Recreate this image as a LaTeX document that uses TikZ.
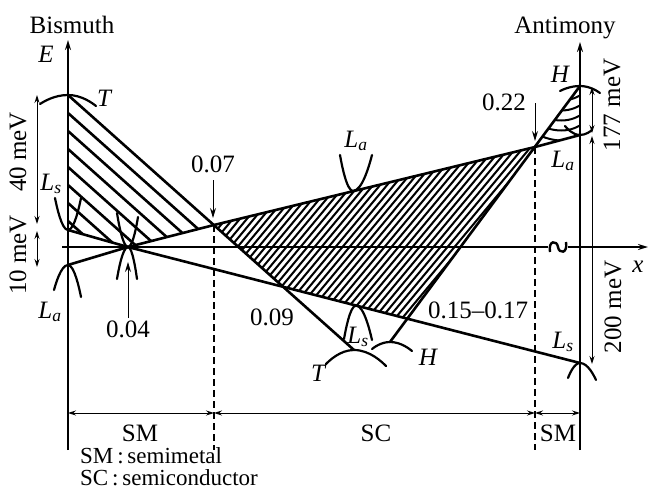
\documentclass[tikz,border=0pt]{standalone}
\usepackage{fontspec}
\setmainfont{Liberation Serif}
\usetikzlibrary{arrows.meta}
\begin{document}
\begin{tikzpicture}[x=1pt,y=-1pt,
  band/.style={line width=2.6pt, line cap=round, line join=round},
  bandcurve/.style={line width=2.2pt, line cap=round},
  axisline/.style={line width=2.6pt,-{Stealth[length=10pt,width=6pt]}},
  dimarrow/.style={line width=0.9pt,{Stealth[length=8pt,width=5pt]}-{Stealth[length=8pt,width=5pt]}},
  ptr/.style={line width=1pt,-{Stealth[length=10pt,width=6pt]}},
  divline/.style={line width=1.8pt,dash pattern=on 7pt off 4pt},
  lbl/.style={inner sep=0pt, font=\fontsize{25}{30}\selectfont},
  leglbl/.style={inner sep=0pt, font=\fontsize{23}{26}\selectfont},
  hatchA/.style={line width=2.6pt},
  hatchC/.style={line width=2pt},
]
\useasboundingbox (0,0) rectangle (651,490);
% key points
\coordinate (T_Bi) at (68,95);
\coordinate (Ls_Bi) at (68,230);
\coordinate (La_Bi) at (68,265);
\coordinate (P04) at (128,247);
\coordinate (P07) at (214,225);
\coordinate (P09) at (283,286);
\coordinate (P15) at (408,318);
\coordinate (P22) at (535,147);
\coordinate (H_Sb) at (580,86);
\coordinate (La_Sb) at (580,135);
\coordinate (Ls_Sb) at (580,363);
\coordinate (T_end) at (354,350);
\coordinate (H_end) at (390,342);
\coordinate (LaM) at (353,191);
\coordinate (LsM) at (356,305.5);
% axes ends
\coordinate (BiBot) at (68,450);
\coordinate (BiTop) at (68,40);
\coordinate (SbBot) at (580,450);
\coordinate (SbTop) at (580,42);
\coordinate (XL) at (62,247);
\coordinate (XR) at (648,247);

% hatching: left region
\begin{scope}
  \clip (T_Bi) -- (P07) -- (P04) -- (Ls_Bi) -- cycle;
  \foreach \yy in {113,131,...,230}
    \draw[hatchA] (68,\yy) -- ++(175,156);
\end{scope}
% hatching: middle region
\begin{scope}
  \clip (P07) -- (P22) -- (P15) -- (P09) -- cycle;
  \foreach \cc in {104,111,...,410}
    \draw[hatchC] (\cc,340) -- ++(170,-204);
\end{scope}
% hatching: right small region
\begin{scope}
  \clip (H_Sb) -- (P22) -- (La_Sb) -- cycle;
  \foreach \yy in {96,106,116,126,136}
    \draw[hatchC] (525,\yy-8) .. controls (555,\yy+10) and (572,\yy+6) .. (585,\yy-4);
\end{scope}

% axes
\draw[axisline] (BiBot) -- (BiTop);
\draw[axisline] (SbBot) -- (SbTop);
\draw[line width=2pt,-{Stealth[length=10pt,width=6pt]}] (XL) -- (XR);
% axis break mark
\fill[white] (548,240) rectangle (568,254);
\draw[line width=2.4pt] (550,252) .. controls (548,240) and (557,240) .. (558,247) .. controls (559,254) and (568,254) .. (566,242);

% dividing dashed lines
\coordinate (P07b) at (214,450);
\coordinate (P22b) at (535,450);
\draw[divline] (P07) -- (P07b);
\draw[divline] (P22) -- (P22b);

% band lines
\draw[band] (T_Bi) -- (T_end);
\draw[band] (Ls_Bi) -- (P04) -- (Ls_Sb);
\draw[band] (La_Bi) -- (P04) -- (P07) -- (P22) -- (La_Sb);
\draw[band] (H_Sb) -- (H_end);

% band curves
\draw[bandcurve] (40,104) parabola bend (T_Bi) (96,106);
\draw[bandcurve] (55,198) parabola bend (Ls_Bi) (81,198);
\draw[bandcurve] (54,290) parabola bend (La_Bi) (81,297);
\draw[bandcurve] (117,213) parabola bend (P04) (138,217);
\draw[bandcurve] (117,279) parabola bend (P04) (137,279);
\draw[bandcurve] (340,155) parabola bend (LaM) (372,155);
\draw[bandcurve] (344,339) parabola bend (LsM) (372,340);
\draw[bandcurve] (326,364) parabola bend (T_end) (386,366);
\draw[bandcurve] (372,349) parabola bend (H_end) (412,351);
\draw[bandcurve] (560,91) parabola bend (H_Sb) (600,93);
\draw[bandcurve] (565,126) parabola bend (La_Sb) (592,130);
\draw[bandcurve] (568,378) parabola bend (Ls_Sb) (596,380);

% pointer arrows
\coordinate (A04s) at (128,318); \coordinate (A04e) at (128,262);
\coordinate (A07s) at (213,180); \coordinate (A07e) at (213,218);
\coordinate (A22s) at (535,103); \coordinate (A22e) at (535,141);
\draw[ptr] (A04s) -- (A04e);
\draw[ptr] (A07s) -- (A07e);
\draw[ptr] (A22s) -- (A22e);

% vertical dimensions
\coordinate (d40a) at (37,95);  \coordinate (d40b) at (37,224);
\coordinate (d10a) at (37,231); \coordinate (d10b) at (37,267);
\coordinate (d177a) at (592,87); \coordinate (d177b) at (592,133);
\coordinate (d200a) at (592,136); \coordinate (d200b) at (592,364);
\draw[dimarrow] (d40a) -- (d40b);
\draw[dimarrow] (d10a) -- (d10b);
\draw[dimarrow] (d177a) -- (d177b);
\draw[dimarrow] (d200a) -- (d200b);

% bottom dimensions
\coordinate (D0) at (68,413); \coordinate (D1) at (214,413);
\coordinate (D2) at (535,413); \coordinate (D3) at (580,413);
\draw[dimarrow] (D0) -- (D1);
\draw[dimarrow] (D1) -- (D2);
\draw[dimarrow] (D2) -- (D3);

% labels
\node[lbl,anchor=base] (bis) at (72,33) {Bismuth};
\node[lbl,anchor=base] (ant) at (565,33) {Antimony};
\node[lbl,anchor=base] (lE) at (46,62) {\itshape E};
\node[lbl,anchor=base] (lT1) at (104,106) {\itshape T};
\node[lbl,anchor=base] (lLs1) at (51,190) {\textit{L}\textsubscript{\textit{s}}};
\node[lbl,anchor=base] (lLa1) at (50,318) {\textit{L}\textsubscript{\textit{a}}};
\node[lbl,anchor=base] (n04) at (128,337) {0.04};
\node[lbl,anchor=base] (n07) at (213,172) {0.07};
\node[lbl,anchor=base] (n09) at (272,325) {0.09};
\node[lbl,anchor=base] (n15) at (478,318) {0.15--0.17};
\node[lbl,anchor=base] (n22) at (504,110) {0.22};
\node[lbl,anchor=base] (lLa2) at (356,147) {\textit{L}\textsubscript{\textit{a}}};
\node[lbl,anchor=base] (lLs2) at (358,343) {\textit{L}\textsubscript{\textit{s}}};
\node[lbl,anchor=base] (lT2) at (318,381) {\itshape T};
\node[lbl,anchor=base] (lH2) at (428,365) {\itshape H};
\node[lbl,anchor=base] (lH1) at (560,82) {\itshape H};
\node[lbl,anchor=base] (lLa3) at (563,167) {\textit{L}\textsubscript{\textit{a}}};
\node[lbl,anchor=base] (lLs3) at (563,348) {\textit{L}\textsubscript{\textit{s}}};
\node[lbl,anchor=base] (lx) at (638,272) {\itshape x};
\node[lbl,rotate=90] (m40) at (18,152) {40 meV};
\node[lbl,rotate=90] (m10) at (18,255) {10 meV};
\node[lbl,rotate=90] (m177) at (612,105) {177 meV};
\node[lbl,rotate=90] (m200) at (613,307) {200 meV};
\node[lbl] (sm1) at (140,433) {SM};
\node[lbl] (sc1) at (376,433) {SC};
\node[lbl] (sm2) at (558,433) {SM};
\node[leglbl,anchor=base west] (leg1) at (80,463) {SM\,:\,semimetal};
\node[leglbl,anchor=base west] (leg2) at (80,485) {SC\,:\,semiconductor};
\end{tikzpicture}
\end{document}
